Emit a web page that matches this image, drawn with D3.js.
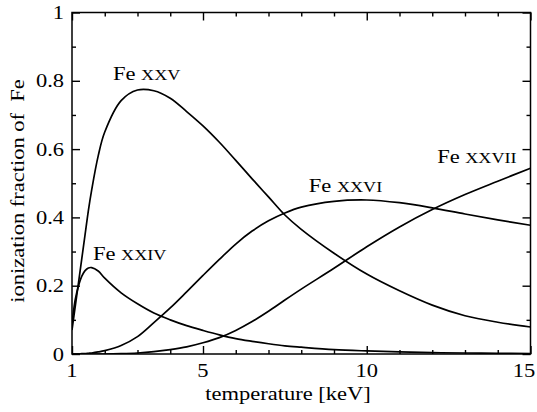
<!DOCTYPE html>
<html>
<head>
<meta charset="utf-8">
<script src="https://cdn.jsdelivr.net/npm/d3@7/dist/d3.min.js"></script>
<style>
  html, body { margin: 0; padding: 0; background: #fff; }
  svg { display: block; }
  text { font-family: "Liberation Serif", "Times New Roman", serif; fill: #000; }
</style>
</head>
<body>
<svg id="chart" width="537" height="412"></svg>
<script>
// Temperature grid in keV
const temperature = [1, 1.1, 1.2, 1.3, 1.4, 1.5, 1.6, 1.8, 2, 2.5, 3, 3.5, 4, 4.5, 5, 5.5, 6, 6.5, 7, 7.5, 8, 9, 10, 11, 12, 13, 14, 15];

// Ionization fractions of iron for each ion stage
const feXXIV = [0.09, 0.16, 0.20, 0.228, 0.244, 0.252, 0.253, 0.243, 0.222, 0.179, 0.147, 0.12, 0.10, 0.083, 0.069, 0.056, 0.045, 0.037, 0.030, 0.024, 0.020, 0.013, 0.009, 0.006, 0.004, 0.003, 0.002, 0.001];
const feXXV = [0.07, 0.14, 0.21, 0.28, 0.35, 0.42, 0.48, 0.58, 0.65, 0.742, 0.773, 0.771, 0.749, 0.71, 0.668, 0.62, 0.567, 0.513, 0.46, 0.407, 0.365, 0.295, 0.234, 0.185, 0.143, 0.112, 0.093, 0.079];
const feXXVI = [0, 0, 0, 0.001, 0.001, 0.002, 0.003, 0.006, 0.01, 0.025, 0.051, 0.092, 0.135, 0.182, 0.23, 0.277, 0.322, 0.36, 0.39, 0.413, 0.43, 0.447, 0.451, 0.443, 0.428, 0.41, 0.393, 0.377];
const feXXVII = [0, 0, 0, 0, 0, 0, 0, 0, 0, 0.001, 0.003, 0.007, 0.013, 0.021, 0.033, 0.048, 0.069, 0.095, 0.125, 0.158, 0.19, 0.251, 0.314, 0.372, 0.423, 0.467, 0.506, 0.544];

// Axis ticks
const xMajorTicks = [1, 5, 10, 15];
const xMinorTicks = [2, 3, 4, 6, 7, 8, 9, 11, 12, 13, 14];
const yMajorTicks = [0, 0.2, 0.4, 0.6, 0.8, 1];
const yMinorTicks = [0.1, 0.3, 0.5, 0.7, 0.9];

// Curve names (element symbol + ion stage)
const ionNames = ["XXIV", "XXV", "XXVI", "XXVII"];

const svg = d3.select("#chart");
const stretch = 1.25;   // the type is set slightly wide
const fontSize = 18;

const x = d3.scaleLinear().domain([1, 15]).range([72, 530.5]);
const y = d3.scaleLinear().domain([0, 1]).range([354, 12.5]);

// Clip curves to the plotting frame
svg.append("defs").append("clipPath").attr("id", "plotClip")
  .append("rect")
  .attr("x", x(1)).attr("y", y(1))
  .attr("width", x(15) - x(1)).attr("height", y(0) - y(1));

// Curves
const series = [feXXIV, feXXV, feXXVI, feXXVII];
const line = d3.line()
  .x(d => x(d[0]))
  .y(d => y(Math.max(0, d[1])))
  .curve(d3.curveCatmullRom.alpha(0.5));

svg.append("g").attr("clip-path", "url(#plotClip)")
  .selectAll("path")
  .data(series)
  .join("path")
  .attr("d", vals => line(temperature.map((t, i) => [t, vals[i]])))
  .attr("fill", "none")
  .attr("stroke", "#000")
  .attr("stroke-width", 1.7);

// Axes: ticks point inward on all four sides
function styleAxis(g) {
  g.select(".domain").remove();
  g.selectAll("line").attr("stroke", "#000").attr("stroke-width", 1.4);
  g.selectAll("text").remove();
}
const majorLen = 8, minorLen = 4;
const addAxis = (gen, tf, vals, len) =>
  svg.append("g").attr("transform", tf)
    .call(gen.tickValues(vals).tickSize(-len).tickFormat(""))
    .call(styleAxis);

addAxis(d3.axisBottom(x), `translate(0,${y(0)})`, xMajorTicks, majorLen);
addAxis(d3.axisBottom(x), `translate(0,${y(0)})`, xMinorTicks, minorLen);
addAxis(d3.axisTop(x), `translate(0,${y(1)})`, xMajorTicks, majorLen);
addAxis(d3.axisTop(x), `translate(0,${y(1)})`, xMinorTicks, minorLen);
addAxis(d3.axisLeft(y), `translate(${x(1)},0)`, yMajorTicks, majorLen);
addAxis(d3.axisLeft(y), `translate(${x(1)},0)`, yMinorTicks, minorLen);
addAxis(d3.axisRight(y), `translate(${x(15)},0)`, yMajorTicks, majorLen);
addAxis(d3.axisRight(y), `translate(${x(15)},0)`, yMinorTicks, minorLen);

// Frame
svg.append("rect")
  .attr("x", x(1)).attr("y", y(1))
  .attr("width", x(15) - x(1)).attr("height", y(0) - y(1))
  .attr("fill", "none").attr("stroke", "#000").attr("stroke-width", 1.5);

// Tick labels (the last x label is kept inside the page edge)
const fmt = d3.format("~g");
svg.append("g").selectAll("text")
  .data(xMajorTicks)
  .join("text")
  .attr("transform", d => `translate(${Math.min(x(d), 524)},377) scale(${stretch},1)`)
  .attr("text-anchor", "middle")
  .attr("font-size", fontSize)
  .text(fmt);

svg.append("g").selectAll("text")
  .data(yMajorTicks)
  .join("text")
  .attr("transform", d => `translate(64,${y(d) + 6.5}) scale(${stretch},1)`)
  .attr("text-anchor", "end")
  .attr("font-size", fontSize)
  .text(fmt);

// Axis titles
svg.append("text")
  .attr("transform", `translate(288,400) scale(${stretch},1)`)
  .attr("text-anchor", "middle")
  .attr("font-size", fontSize)
  .text("temperature [keV]");

svg.append("text")
  .attr("transform", `translate(24,191) rotate(-90) scale(${stretch},1)`)
  .attr("text-anchor", "middle")
  .attr("font-size", fontSize)
  .attr("xml:space", "preserve")
  .style("white-space", "pre")
  .text("ionization fraction of  Fe");

// Ion labels, placed in data coordinates
const labelSpots = [
  { name: ionNames[0], t: 1.64, f: 0.275 },
  { name: ionNames[1], t: 2.25, f: 0.802 },
  { name: ionNames[2], t: 8.23, f: 0.474 },
  { name: ionNames[3], t: 12.15, f: 0.558 }
];
const lab = svg.append("g").selectAll("text")
  .data(labelSpots)
  .join("text")
  .attr("transform", d => `translate(${x(d.t)},${y(d.f)}) scale(${stretch},1)`)
  .attr("font-size", fontSize);
lab.append("tspan").text("Fe ");
lab.append("tspan").attr("font-size", 14.5).text(d => d.name);
</script>
</body>
</html>
